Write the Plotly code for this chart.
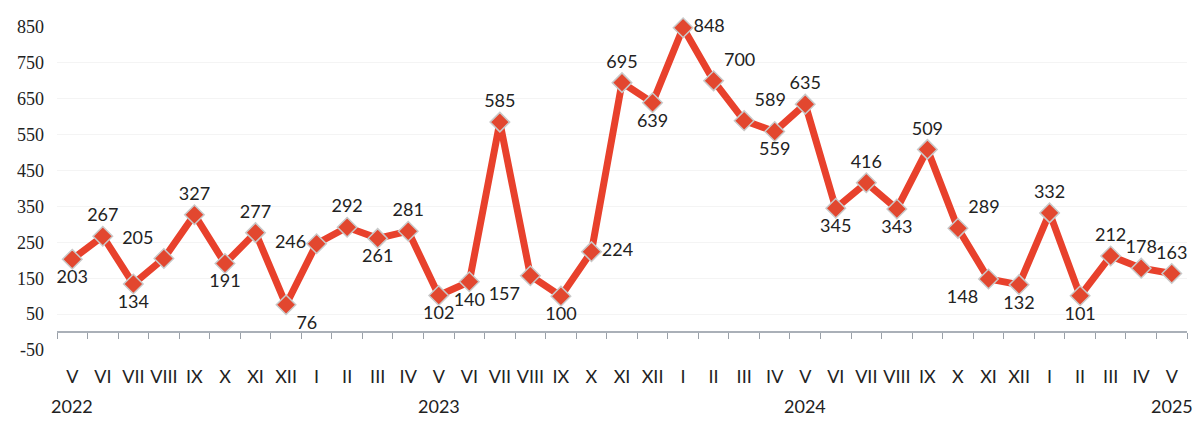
import plotly.graph_objects as go

months = ["V", "VI", "VII", "VIII", "IX", "X", "XI", "XII",
          "I", "II", "III", "IV", "V", "VI", "VII", "VIII", "IX", "X", "XI", "XII",
          "I", "II", "III", "IV", "V", "VI", "VII", "VIII", "IX", "X", "XI", "XII",
          "I", "II", "III", "IV", "V"]
values = [203, 267, 134, 205, 327, 191, 277, 76,
          246, 292, 261, 281, 102, 140, 585, 157, 100, 224, 695, 639,
          848, 700, 589, 559, 635, 345, 416, 343, 509, 289, 148, 132,
          332, 101, 212, 178, 163]
label_pos = ["bottom center", "top center", "bottom center", "top left", "top center",
             "bottom center", "top center", "bottom right", "middle left", "top center",
             "bottom center", "top center", "bottom center", "bottom center", "top center",
             "bottom left", "bottom center", "middle right", "top center", "bottom center",
             "middle right", "top right", "top right", "bottom center", "top center",
             "bottom center", "top center", "bottom center", "top center", "top right",
             "bottom left", "bottom center", "top center", "bottom center", "top center",
             "top center", "top center"]
years = ["2022", "2023", "2024", "2025"]
year_idx = [0, 12, 24, 36]
y_ticks = [-50, 50, 150, 250, 350, 450, 550, 650, 750, 850]
y_tick_text = ["-50", "50", "150", "250", "350", "450", "550", "650", "750", "850"]

xs = list(range(len(values)))
boundaries = [i - 0.5 for i in range(len(values) + 1)]

fig = go.Figure()
fig.add_trace(go.Scatter(
    x=xs, y=values, mode="lines+markers+text",
    line=dict(color="#e8412c", width=7),
    marker=dict(symbol="diamond", size=15, color="#e2472f",
                line=dict(color="#c9c9c9", width=1.5)),
    text=[str(v) for v in values], textposition=label_pos,
    textfont=dict(family="Lato, Open Sans, sans-serif", size=18, color="#222222"),
    cliponaxis=False, hoverinfo="skip", showlegend=False,
))
# helper trace so the zero-level axis with boundary ticks is drawn
fig.add_trace(go.Scatter(x=xs, y=values, xaxis="x2", mode="none",
                         hoverinfo="skip", showlegend=False))

for yi, yr in zip(year_idx, years):
    fig.add_annotation(x=yi, y=0, yref="paper", yshift=-56, text=yr,
                       showarrow=False, yanchor="middle",
                       font=dict(family="Lato, Open Sans, sans-serif", size=18, color="#222222"))

fig.update_layout(
    width=1188, height=409,
    margin=dict(l=49, r=9, t=17, b=67),
    paper_bgcolor="white", plot_bgcolor="white",
    xaxis=dict(range=[-0.5, len(values) - 0.5], tickvals=xs, ticktext=months,
               showgrid=False, zeroline=False, showline=False, ticks="",
               ticklabelstandoff=14,
               tickfont=dict(family="Lato, Open Sans, sans-serif", size=18, color="#222222")),
    xaxis2=dict(overlaying="x", anchor="free", position=50 / 900,
                range=[-0.5, len(values) - 0.5], tickvals=boundaries,
                showticklabels=False, ticks="outside", ticklen=6, tickcolor="#9aa0a8",
                showline=True, linecolor="#aab0b8", linewidth=1.5,
                showgrid=False, zeroline=False),
    yaxis=dict(range=[-50, 850], tickvals=y_ticks, ticktext=y_tick_text,
               showgrid=True, gridcolor="#f4f4f4",
               zeroline=False, showline=False, ticks="", ticklabelstandoff=12,
               tickfont=dict(family="Liberation Serif", size=18, color="#222222")),
)

fig.write_html("out.html")
